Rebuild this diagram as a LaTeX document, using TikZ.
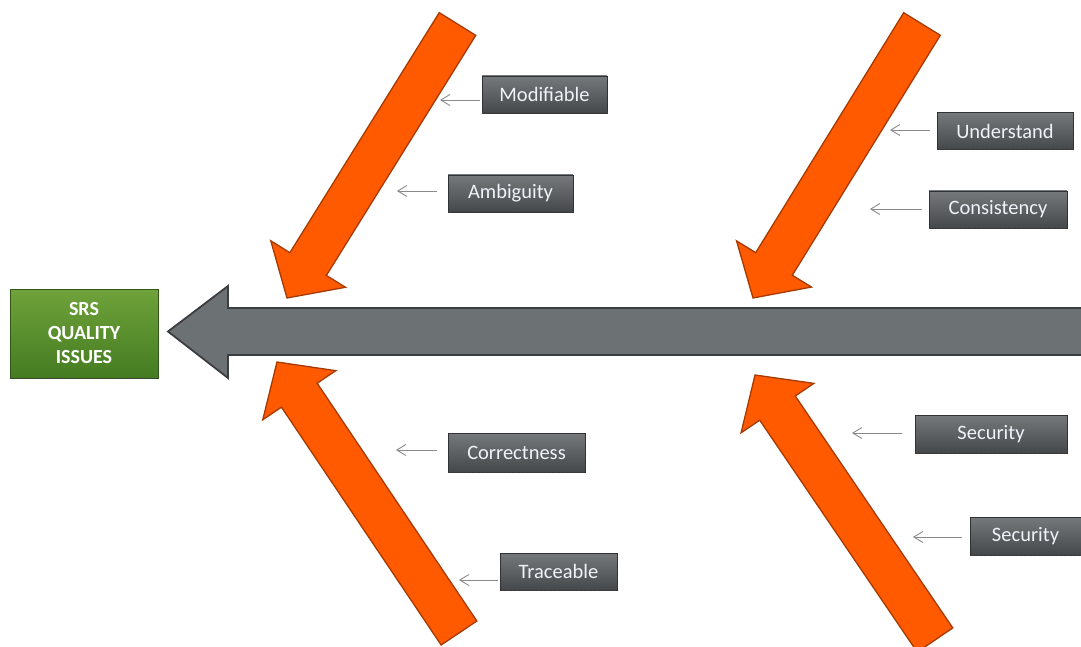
\documentclass[tikz,border=0pt]{standalone}
\usepackage{fontspec}
\setmainfont{Carlito}
\usetikzlibrary{calc,arrows.meta}
\definecolor{orng}{HTML}{FF5A00}
\definecolor{orngdk}{HTML}{A63A00}
\definecolor{spinefill}{HTML}{6C7174}
\definecolor{spinedk}{HTML}{3A3E41}
\definecolor{lbltop}{HTML}{75797C}
\definecolor{lblbot}{HTML}{45484B}
\definecolor{grtop}{HTML}{6FA23A}
\definecolor{grbot}{HTML}{457C22}
\definecolor{lbltext}{HTML}{EEF3FA}
\definecolor{thinarr}{HTML}{8A8A8A}
\tikzset{
  lbl/.style={top color=lbltop, bottom color=lblbot, draw=lblbot!70!black, line width=0.4pt,
    text=lbltext, font=\fontsize{20.5}{22}\selectfont, inner sep=0pt, minimum height=37pt},
  srsbox/.style={top color=grtop, bottom color=grbot, draw=grbot!70!black, line width=0.4pt,
    text=white, font=\bfseries\fontsize{20}{24}\selectfont, align=center, inner sep=0pt,
    minimum width=148pt, minimum height=89pt},
  dashbot/.style={draw=black!75, line width=1.4pt, dash pattern=on 1.5pt off 1pt},
  smallarr/.style={draw=thinarr, line width=0.9pt, -{Straight Barb[length=9pt,width=11pt]}},
  bigarr/.style={fill=orng, draw=orngdk, line width=1.3pt, line join=miter},
  spinearr/.style={fill=spinefill, draw=spinedk, line width=1.8pt, line join=miter}
}
\newcommand\orangearrow[2]{%
  \path (#1) coordinate (T) (#2) coordinate (P);
  \path ($(P)!40pt!(T)$) coordinate (H);
  \draw[bigarr] ($(T)!21.5pt!90:(P)$) -- ($(H)!21.5pt!90:(P)$) -- ($(H)!44pt!90:(P)$)
    -- (P) -- ($(H)!44pt!-90:(P)$) -- ($(H)!21.5pt!-90:(P)$) -- ($(T)!21.5pt!-90:(P)$) -- cycle;
}
\begin{document}
\begin{tikzpicture}[x=1pt,y=-1pt]
\useasboundingbox (0,0) rectangle (1081,647);
\clip (0,0) rectangle (1081,647);
\fill[white] (0,0) rectangle (1081,647);

% spine
\draw[spinearr] (1095,308) -- (228,308) -- (228,286) -- (168,331.5) -- (228,378)
  -- (228,355) -- (1095,355) -- cycle;

% orange bones
\orangearrow{457.5,24}{287,298}
\orangearrow{922,24}{753,298}
\orangearrow{459,633}{277,362}
\orangearrow{935,640}{755,375}

% effect box
\node[srsbox] (srs) at (84,333.5) {SRS\\QUALITY\\ISSUES};
\draw[dashbot] (srs.south west) -- (srs.south east);

% labels
\node[lbl, minimum width=125pt] (mod) at (544.5,94.5) {Modifiable};
\node[lbl, minimum width=125pt] (amb) at (510.5,193.5) {Ambiguity};
\node[lbl, minimum width=136pt] (und) at (1005,131) {Understand};
\node[lbl, minimum width=138pt] (con) at (998,209.5) {Consistency};
\node[lbl, minimum width=137pt, minimum height=39pt] (cor) at (516.5,452.5) {Correctness};
\node[lbl, minimum width=117pt] (tra) at (558.5,571.5) {Traceable};
\node[lbl, minimum width=152pt, minimum height=38pt] (sec1) at (991,434) {Security};
\node[lbl, minimum width=111pt, minimum height=38pt] (sec2) at (1025.5,536) {Security};
\foreach \n in {mod,amb,und,con,cor,tra,sec1,sec2}
  \draw[dashbot] (\n.south west) -- (\n.south east);

% small pointer arrows
\coordinate (amod) at (440,100);
\coordinate (aamb) at (397,191);
\coordinate (aund) at (890,130);
\coordinate (acon) at (870,209);
\coordinate (acor) at (396,450);
\coordinate (atra) at (459,580);
\coordinate (asec1) at (852,433);
\coordinate (asec2) at (913,537);
\draw[smallarr, shorten <=2pt] (mod.west |- amod) -- (amod);
\draw[smallarr, shorten <=11pt] (amb.west |- aamb) -- (aamb);
\draw[smallarr, shorten <=7pt] (und.west |- aund) -- (aund);
\draw[smallarr, shorten <=7pt] (con.west |- acon) -- (acon);
\draw[smallarr, shorten <=11pt] (cor.west |- acor) -- (acor);
\draw[smallarr, shorten <=2pt] (tra.west |- atra) -- (atra);
\draw[smallarr, shorten <=13pt] (sec1.west |- asec1) -- (asec1);
\draw[smallarr, shorten <=8pt] (sec2.west |- asec2) -- (asec2);
\end{tikzpicture}
\end{document}
